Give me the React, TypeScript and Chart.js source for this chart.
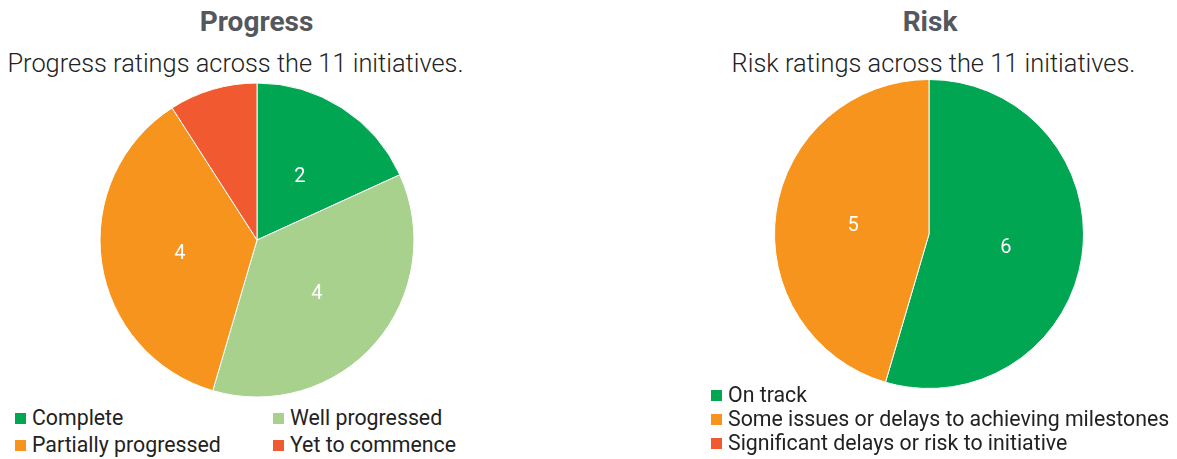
import React, { useEffect, useRef } from "react";
import { Chart, registerables } from "chart.js";

Chart.register(...registerables);

const progressLabels = ["Complete", "Well progressed", "Partially progressed", "Yet to commence"];
const progressValues = [2, 4, 4, 1];
const progressColors = ["#00a651", "#a8d18d", "#f7941d", "#f15a31"];

const riskLabels = [
  "On track",
  "Some issues or delays to achieving milestones",
  "Significant delays or risk to initiative",
];
const riskValues = [6, 5, 0];
const riskColors = ["#00a651", "#f7941d", "#f15a31"];

const FONT = "Roboto, 'Noto Sans', sans-serif";

const sliceLabelPlugin = {
  id: "sliceLabels",
  afterDatasetsDraw(chart: any) {
    const ctx = chart.ctx;
    const ds = chart.data.datasets[0];
    const vals = ds.data as number[];
    const total = vals.reduce((a, b) => a + b, 0);
    const meta = chart.getDatasetMeta(0);
    ctx.save();
    ctx.fillStyle = "#ffffff";
    ctx.font = `20px ${FONT}`;
    ctx.textAlign = "center";
    ctx.textBaseline = "middle";
    meta.data.forEach((arc: any, i: number) => {
      const v = vals[i];
      if (!v || v / total < 0.1) return;
      const p = arc.tooltipPosition();
      ctx.fillText(String(v), p.x + 0.5, p.y + 3);
    });
    ctx.restore();
  },
};

function Pie({ labels, values, colors, radius, left, top, size }: any) {
  const ref = useRef<HTMLCanvasElement>(null);
  useEffect(() => {
    const chart = new Chart(ref.current!, {
      type: "pie",
      data: {
        labels,
        datasets: [
          {
            data: values,
            backgroundColor: colors,
            borderColor: "#ffffff",
            borderWidth: 1,
            hoverOffset: 0,
            offset: 0,
            radius,
          },
        ],
      },
      options: {
        responsive: false,
        animation: false,
        rotation: 0,
        layout: { padding: 0 },
        plugins: { legend: { display: false }, tooltip: { enabled: false } },
      },
      plugins: [sliceLabelPlugin],
    });
    return () => chart.destroy();
  }, []);
  return (
    <canvas
      ref={ref}
      width={size}
      height={size}
      style={{ position: "absolute", left, top, width: size, height: size }}
    />
  );
}

function Text({ children, cx, cy, size, weight = 400, color = "#222222" }: any) {
  return (
    <div
      style={{
        position: "absolute",
        left: cx - 400,
        width: 800,
        top: cy - size / 2,
        textAlign: "center",
        fontSize: size,
        lineHeight: 1,
        fontWeight: weight,
        color,
        whiteSpace: "nowrap",
        fontFamily: FONT,
      }}
    >
      {children}
    </div>
  );
}

function LegendItem({ label, color, x, cy }: any) {
  return (
    <div
      style={{
        position: "absolute",
        left: x,
        top: cy - 11,
        height: 22,
        display: "flex",
        alignItems: "center",
        whiteSpace: "nowrap",
        fontFamily: FONT,
        fontSize: 21.3,
        color: "#222222",
        lineHeight: "22px",
      }}
    >
      <span style={{ display: "inline-block", width: 11, height: 11, background: color, marginRight: 6 }} />
      <span>{label}</span>
    </div>
  );
}

export default function App() {
  const leftCols = [15, 273];
  const leftRows = [418, 445];
  const riskRows = [395, 419, 443];
  return (
    <div style={{ position: "absolute", left: 0, top: 0, width: 1177, height: 459, background: "#fff", overflow: "hidden" }}>
      <Text cx={256.5} cy={21.5} size={28} weight={700} color="#54585d">Progress</Text>
      <Text cx={235.5} cy={63.5} size={25.4} weight={300}>Progress ratings across the 11 initiatives.</Text>
      <Text cx={930} cy={21.5} size={28} weight={700} color="#54585d">Risk</Text>
      <Text cx={933.5} cy={63.5} size={25.4} weight={300}>Risk ratings across the 11 initiatives.</Text>

      <Pie labels={progressLabels} values={progressValues} colors={progressColors} radius={157} left={92} top={75} size={330} />
      <Pie labels={riskLabels} values={riskValues} colors={riskColors} radius={154.5} left={764} top={69} size={330} />

      {progressLabels.map((l, i) => (
        <LegendItem key={l} label={l} color={progressColors[i]} x={leftCols[i % 2]} cy={leftRows[Math.floor(i / 2)]} />
      ))}
      {riskLabels.map((l, i) => (
        <LegendItem key={l} label={l} color={riskColors[i]} x={711} cy={riskRows[i]} />
      ))}
    </div>
  );
}
